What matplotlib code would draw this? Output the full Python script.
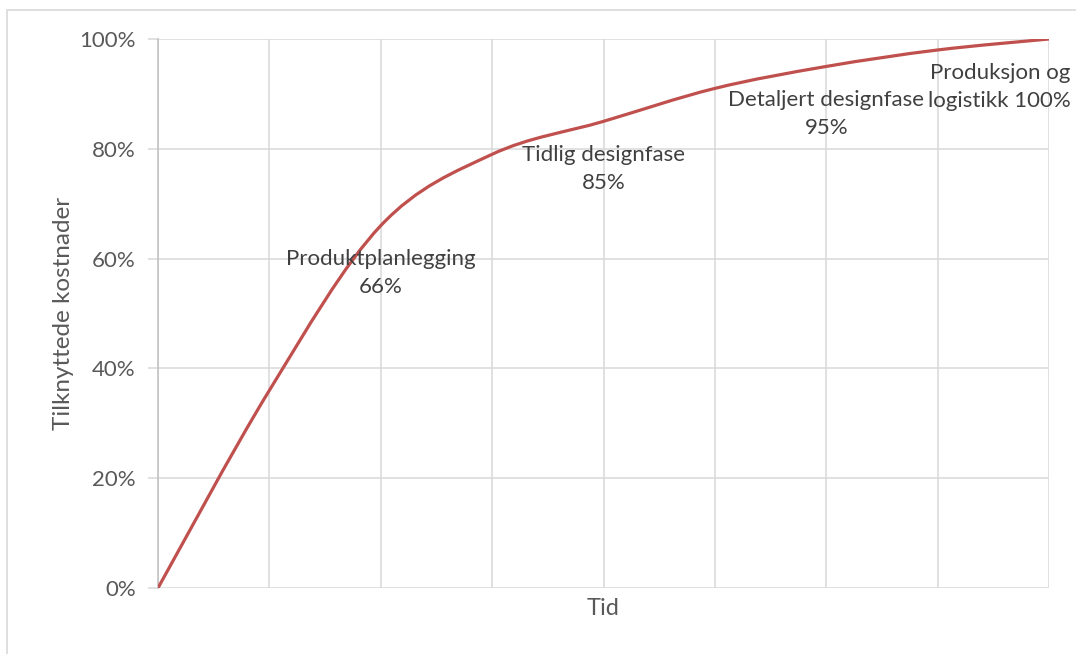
import matplotlib
matplotlib.use("Agg")
import matplotlib.pyplot as plt
from matplotlib.path import Path
from matplotlib.patches import PathPatch, Rectangle
from matplotlib.ticker import PercentFormatter
import numpy as np

plt.rcParams['font.family'] = ['Lato', 'DejaVu Sans']

# Data
steps = [0, 1, 2, 3, 4, 5, 6, 7, 8]
cost_share = [0, 36, 66, 79, 85, 91, 95, 98, 100]
phase_labels = {2: "Produktplanlegging\n66%",
                4: "Tidlig designfase\n85%",
                6: "Detaljert designfase\n95%",
                8: "Produksjon og\nlogistikk 100%"}

LINE = "#c0504d"
GRID = "#d9d9d9"
TXT = "#595959"

fig = plt.figure(figsize=(10.76, 6.54), dpi=100)
ax = fig.add_axes([158/1076, 1-588/654, (1049-158)/1076, (588-39)/654])

# smoothed line (Excel style bezier through the points)
pts = np.column_stack([steps, cost_share]).astype(float)
ext = np.vstack([pts[0], pts, pts[-1]])
verts = [tuple(pts[0])]
codes = [Path.MOVETO]
for i in range(len(pts) - 1):
    p0, p1, p2, p3 = ext[i], ext[i+1], ext[i+2], ext[i+3]
    c1 = p1 + (p2 - p0) / 6
    c2 = p2 - (p3 - p1) / 6
    verts += [tuple(c1), tuple(c2), tuple(p2)]
    codes += [Path.CURVE4] * 3
ax.add_patch(PathPatch(Path(verts, codes), facecolor="none", edgecolor=LINE,
                       lw=2.3, capstyle="round", zorder=3))

ax.set_xlim(0, 8)
ax.set_ylim(0, 100)
ax.set_xticks(steps)
ax.set_xticklabels([])
ax.set_yticks([0, 20, 40, 60, 80, 100])
ax.yaxis.set_major_formatter(PercentFormatter(decimals=0))
ax.grid(True, color=GRID, lw=1.1)
ax.set_axisbelow(True)
for s in ["top", "right", "bottom"]:
    ax.spines[s].set_visible(False)
ax.spines["left"].set_color("#bfbfbf")
ax.spines["left"].set_linewidth(1.1)
ax.tick_params(axis="y", length=7, color=GRID, width=1.1, labelsize=16,
               labelcolor=TXT, pad=9)
ax.tick_params(axis="x", length=0)

ax.set_xlabel("Tid", fontsize=17, color=TXT, labelpad=4)
ax.set_ylabel("Tilknyttede kostnader", fontsize=17.5, color=TXT, labelpad=4)

for x, txt in phase_labels.items():
    y = cost_share[x]
    ha = "center"
    dx = 0
    if x == steps[-1]:
        ha = "right"
        dx = 16
    ax.annotate(txt, (x, y), xytext=(dx, -17), textcoords="offset points",
                ha=ha, va="top", fontsize=16, color="#404040",
                linespacing=1.5, multialignment="center", zorder=4)

# chart border
fig.patches.append(Rectangle((7/1076, -0.1), 1.2, 1 - 10/654 + 0.1,
                             transform=fig.transFigure, fill=False,
                             edgecolor=GRID, lw=1.2))

fig.savefig("out.png", dpi=100)
